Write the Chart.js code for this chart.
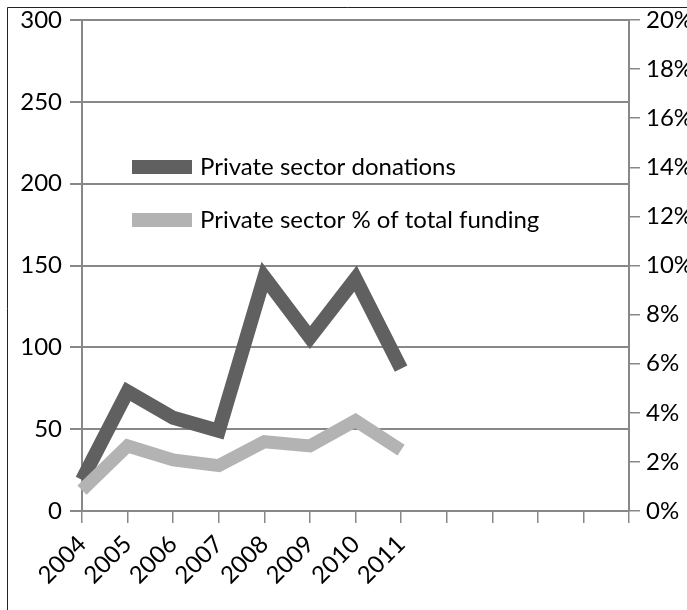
<!DOCTYPE html>
<html>
<head>
<meta charset="utf-8">
<script src="https://cdn.jsdelivr.net/npm/chart.js@4/dist/chart.umd.min.js"></script>
<style>
    body { margin: 0; background: #fff; }
    #wrap { position: relative; width: 687px; height: 610px; }
</style>
</head>
<body>
<div id="wrap"><canvas id="funding-chart"></canvas></div>
<script>
// Years on the category axis (empty slots keep the extra tick marks)
const years = ['2004', '2005', '2006', '2007', '2008', '2009', '2010', '2011', '', '', '', '', ''];

// Private sector donations (left axis)
const donations = [19, 73, 57, 49, 143, 106, 142, 87];

// Private sector share of total funding, in % (right axis)
const shareOfTotal = [0.85, 2.65, 2.08, 1.85, 2.82, 2.65, 3.68, 2.48];

const seriesNames = ['Private sector donations', 'Private sector % of total funding'];

const FONT = 'Lato, "Open Sans", sans-serif';
const GRID = '#888888';

// Frame round the whole chart, running off the right and bottom edges
const framePlugin = {
    id: 'frame',
    afterDraw(chart) {
        const c = chart.ctx;
        c.save();
        c.strokeStyle = '#222';
        c.lineWidth = 1;
        c.beginPath();
        c.moveTo(7.5, chart.height);
        c.lineTo(7.5, 7.5);
        c.lineTo(chart.width, 7.5);
        c.stroke();
        c.restore();
    }
};

// Legend sits inside the plot area, like the original
const insideLegend = {
    id: 'insideLegend',
    afterDraw(chart) {
        const c = chart.ctx;
        const left = chart.chartArea.left + 50;
        const rows = [167, 220];
        c.save();
        c.font = '24px ' + FONT;
        c.textBaseline = 'middle';
        chart.data.datasets.forEach((ds, i) => {
            c.fillStyle = ds.borderColor;
            c.fillRect(left, rows[i] - 7, 60, 14);
            c.fillStyle = '#000';
            c.fillText(ds.label, left + 68, rows[i]);
        });
        c.restore();
    }
};

new Chart(document.getElementById('funding-chart'), {
    type: 'line',
    data: {
        labels: years,
        datasets: [{
            label: seriesNames[0],
            data: donations,
            yAxisID: 'y',
            borderColor: '#606060',
            borderWidth: 14,
            borderJoinStyle: 'miter',
            borderCapStyle: 'butt',
            pointRadius: 0,
            tension: 0,
            order: 1
        }, {
            label: seriesNames[1],
            data: shareOfTotal,
            yAxisID: 'y2',
            borderColor: '#b3b3b3',
            borderWidth: 13,
            borderJoinStyle: 'miter',
            borderCapStyle: 'butt',
            pointRadius: 0,
            tension: 0,
            order: 0
        }]
    },
    options: {
        responsive: true,
        maintainAspectRatio: false,
        animation: false,
        layout: { padding: { top: 20, left: 0, right: 0, bottom: 0 } },
        scales: {
            x: {
                offset: false,
                grid: {
                    drawOnChartArea: false,
                    drawTicks: true,
                    tickLength: 12,
                    color: GRID,
                    lineWidth: 1.5
                },
                border: { color: GRID, width: 2 },
                ticks: {
                    autoSkip: false,
                    minRotation: 45,
                    maxRotation: 45,
                    padding: 7,
                    color: '#000',
                    font: { family: FONT, size: 24 }
                },
                afterFit(scale) { scale.height = 99; }
            },
            y: {
                position: 'left',
                min: 0,
                max: 300,
                ticks: {
                    stepSize: 50,
                    padding: 8,
                    color: '#000',
                    font: { family: FONT, size: 24 }
                },
                grid: {
                    color: GRID,
                    lineWidth: 2,
                    tickLength: 12
                },
                border: { color: GRID, width: 2 },
                afterFit(scale) { scale.width = 82; scale.paddingTop = 0; }
            },
            y2: {
                position: 'right',
                min: 0,
                max: 20,
                ticks: {
                    stepSize: 2,
                    padding: 6,
                    color: '#000',
                    font: { family: FONT, size: 24 },
                    callback: v => v + '%'
                },
                grid: {
                    drawOnChartArea: false,
                    color: GRID,
                    lineWidth: 1.5,
                    tickLength: 11
                },
                border: { color: GRID, width: 2 },
                afterFit(scale) { scale.width = 58; scale.paddingTop = 0; }
            }
        },
        plugins: {
            legend: { display: false },
            tooltip: { enabled: false }
        }
    },
    plugins: [framePlugin, insideLegend]
});
</script>
</body>
</html>
